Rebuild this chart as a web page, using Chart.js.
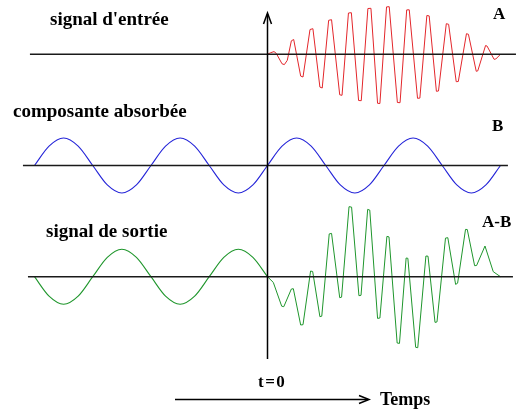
<!DOCTYPE html>
<html>
<head>
<meta charset="utf-8">
<script src="https://cdn.jsdelivr.net/npm/chart.js@4"></script>
<style>
  body { margin: 0; background: #ffffff; }
  #wrap { width: 519px; height: 411px; }
</style>
</head>
<body>
<div id="wrap"><canvas id="chart" width="519" height="411"></canvas></div>
<script>
// Time runs from -20 to 20, one period of B = 10 units, t=0 at the vertical axis

// A: input signal (only after t=0)
const inputTimes = [0, 0.25, 0.56, 0.75, 1.25, 1.45, 1.7, 2.05, 2.25, 2.85, 3.05, 3.65, 3.9, 4.5, 4.7,
    5.25, 5.5, 6.2, 6.4, 6.95, 7.2, 7.82, 8.05, 8.62, 8.88, 9.45, 9.65, 10.22, 10.45, 11.15, 11.38,
    11.95, 12.17, 12.88, 13.08, 13.68, 13.88, 14.5, 14.68, 15.35, 15.55, 16.2, 16.38, 17.08, 17.25,
    17.92, 18.05, 18.72, 18.85, 19.45, 19.6, 20];
const inputValues = [0, 1.5, 2.7, 1, -9.5, -10.3, -6, 13.5, 14.8, -21.8, -22.7, 24.8, 25.6, -32.8, -33.7,
    34, 34.6, -40.5, -41, 41.3, 41.6, -46.2, -46.4, 45.8, 46, -49, -49.2, 47.4, 47.6, -48.2, -48.4,
    44.4, 44.5, -44, -43.8, 38.8, 38.4, -37, -36.7, 30.6, 30, -27.4, -27.2, 20.6, 20,
    -17, -16.6, 8.8, 8.2, -5, -4.7, 0];

// B: absorbed component
const absorbedTimes = [-20, -18.75, -17.5, -16.25, -15, -13.75, -12.5, -11.25, -10, -8.75, -7.5, -6.25,
    -5, -3.75, -2.5, -1.25, 0, 1.25, 2.5, 3.75, 5, 6.25, 7.5, 8.75, 10, 11.25, 12.5, 13.75, 15,
    16.25, 17.5, 18.75, 20];
const absorbedValues = [0, 19.4, 27.5, 19.4, 0, -19.4, -27.5, -19.4, 0, 19.4, 27.5, 19.4,
    0, -19.4, -27.5, -19.4, 0, 19.4, 27.5, 19.4, 0, -19.4, -27.5, -19.4, 0, 19.4, 27.5, 19.4, 0,
    -19.4, -27.5, -19.4, 0];

// A-B: output signal, before t=0 (smooth) and after t=0 (sampled)
const outputBeforeTimes = [-20, -18.75, -17.5, -16.25, -15, -13.75, -12.5, -11.25, -10, -8.75, -7.5,
    -6.25, -5, -3.75, -2.5, -1.25, 0];
const outputBeforeValues = [0, -19.4, -27.5, -19.4, 0, 19.4, 27.5, 19.4, 0, -19.4, -27.5,
    -19.4, 0, 19.4, 27.5, 19.4, 0];
const outputAfterTimes = [0, 0.5, 1.22, 1.4, 2.05, 2.22, 2.85, 3.05, 3.7, 3.88, 4.5, 4.66, 5.3, 5.5,
    6.2, 6.36, 7.0, 7.22, 7.85, 8.03, 8.6, 8.78, 9.45, 9.65, 10.25, 10.43, 11.13, 11.33, 11.9, 12.05,
    12.72, 12.9, 13.6, 13.78, 14.38, 14.55, 15.28, 15.48, 16.15, 16.32, 17.0, 17.15, 17.78, 17.95,
    18.67, 19.38, 20];
const outputAfterValues = [0, -5.7, -29.5, -30, -12.3, -12, -48.3, -48, 5.7, 5.2, -40, -39.5, 42.8, 43.3,
    -21, -20.5, 70, 69.6, -19, -18.6, 67.3, 66.6, -41.7, -41.3, 40.3, 39.8, -66.3, -66.7, 18.7, 18.4,
    -70.6, -71, 20.7, 20.5, -45.7, -45.2, 38.6, 39, -7.7, -6.5, 47.3, 47.2, 11, 11.2,
    30.7, 5, 0];

// Text labels
const rowTitles = ["signal d'entrée", "composante absorbée", "signal de sortie"];
const rowLetters = ["A", "B", "A-B"];
const timeZeroLabel = "t=0";
const timeAxisLabel = "Temps";

// Extent of the three zero lines (in time units)
const baselineStart = [-20.39, -20.99, -20.56];
const baselineEnd = [21.33, 20.64, 21.07];

function toPoints(times, values) {
    return times.map(function (t, i) { return { x: t, y: values[i] }; });
}

const serif = '"Liberation Serif", "Times New Roman", serif';

// Zero lines, time axis and the texts
const decorations = {
    id: 'decorations',
    afterDatasetsDraw: function (chart) {
        const ctx = chart.ctx;
        const xs = chart.scales.x;
        const axes = ['yA', 'yB', 'yC'];
        ctx.save();

        // zero lines
        ctx.strokeStyle = '#1a1a1a';
        ctx.lineWidth = 1.6;
        axes.forEach(function (id, i) {
            const y = chart.scales[id].getPixelForValue(0);
            ctx.beginPath();
            ctx.moveTo(xs.getPixelForValue(baselineStart[i]), y);
            ctx.lineTo(xs.getPixelForValue(baselineEnd[i]), y);
            ctx.stroke();
        });

        // vertical axis at t=0
        const x0 = Math.round(xs.getPixelForValue(0)) + 0.5;
        ctx.lineWidth = 1.5;
        ctx.strokeStyle = '#000';
        ctx.beginPath();
        ctx.moveTo(x0, 14);
        ctx.lineTo(x0, 359);
        ctx.stroke();
        ctx.beginPath();
        ctx.moveTo(x0 - 4, 24);
        ctx.lineTo(x0, 13);
        ctx.lineTo(x0 + 4, 24);
        ctx.stroke();

        // time arrow
        ctx.beginPath();
        ctx.moveTo(175, 399.5);
        ctx.lineTo(368, 399.5);
        ctx.stroke();
        ctx.beginPath();
        ctx.moveTo(359, 395.5);
        ctx.lineTo(369, 399.5);
        ctx.lineTo(359, 403.5);
        ctx.stroke();

        // texts
        ctx.fillStyle = '#000';
        ctx.textBaseline = 'alphabetic';
        ctx.textAlign = 'left';
        ctx.font = 'bold 19px ' + serif;
        ctx.fillText(rowTitles[0], 50, 25);
        ctx.fillText(rowTitles[1], 13, 117);
        ctx.fillText(rowTitles[2], 46, 237);

        ctx.font = 'bold 17px ' + serif;
        ctx.fillText(rowLetters[0], 493, 19);
        ctx.fillText(rowLetters[1], 492, 131);
        ctx.fillText(rowLetters[2], 482, 227);

        ctx.font = 'bold 17px ' + serif;
        ctx.letterSpacing = '1.5px';
        ctx.fillText(timeZeroLabel, 258, 387);
        ctx.letterSpacing = '0px';
        ctx.font = 'bold 18px ' + serif;
        ctx.fillText(timeAxisLabel, 380, 405);

        ctx.restore();
    }
};

const ctx = document.getElementById('chart').getContext('2d');
const signalChart = new Chart(ctx, {
    type: 'scatter',
    data: {
        datasets: [
            {
                label: 'A',
                data: toPoints(inputTimes, inputValues),
                yAxisID: 'yA',
                showLine: true,
                borderColor: '#e3262b',
                borderWidth: 1,
                pointRadius: 0,
                tension: 0
            },
            {
                label: 'B',
                data: toPoints(absorbedTimes, absorbedValues),
                yAxisID: 'yB',
                showLine: true,
                borderColor: '#2424d8',
                borderWidth: 1.1,
                pointRadius: 0,
                cubicInterpolationMode: 'monotone'
            },
            {
                label: 'A-B (t<0)',
                data: toPoints(outputBeforeTimes, outputBeforeValues),
                yAxisID: 'yC',
                showLine: true,
                borderColor: '#1f962c',
                borderWidth: 1.1,
                pointRadius: 0,
                cubicInterpolationMode: 'monotone'
            },
            {
                label: 'A-B (t>0)',
                data: toPoints(outputAfterTimes, outputAfterValues),
                yAxisID: 'yC',
                showLine: true,
                borderColor: '#1f962c',
                borderWidth: 1,
                pointRadius: 0,
                tension: 0
            }
        ]
    },
    options: {
        responsive: false,
        animation: false,
        devicePixelRatio: 1,
        layout: { padding: 0 },
        plugins: {
            legend: { display: false },
            tooltip: { enabled: false }
        },
        scales: {
            x: { type: 'linear', display: false, min: -22.96, max: 21.59 },
            yA: { type: 'linear', display: false, min: -356.7, max: 54.3 },
            yB: { type: 'linear', display: false, min: -245.5, max: 165.5 },
            yC: { type: 'linear', display: false, min: -134.3, max: 276.7 }
        }
    },
    plugins: [decorations]
});
</script>
</body>
</html>
